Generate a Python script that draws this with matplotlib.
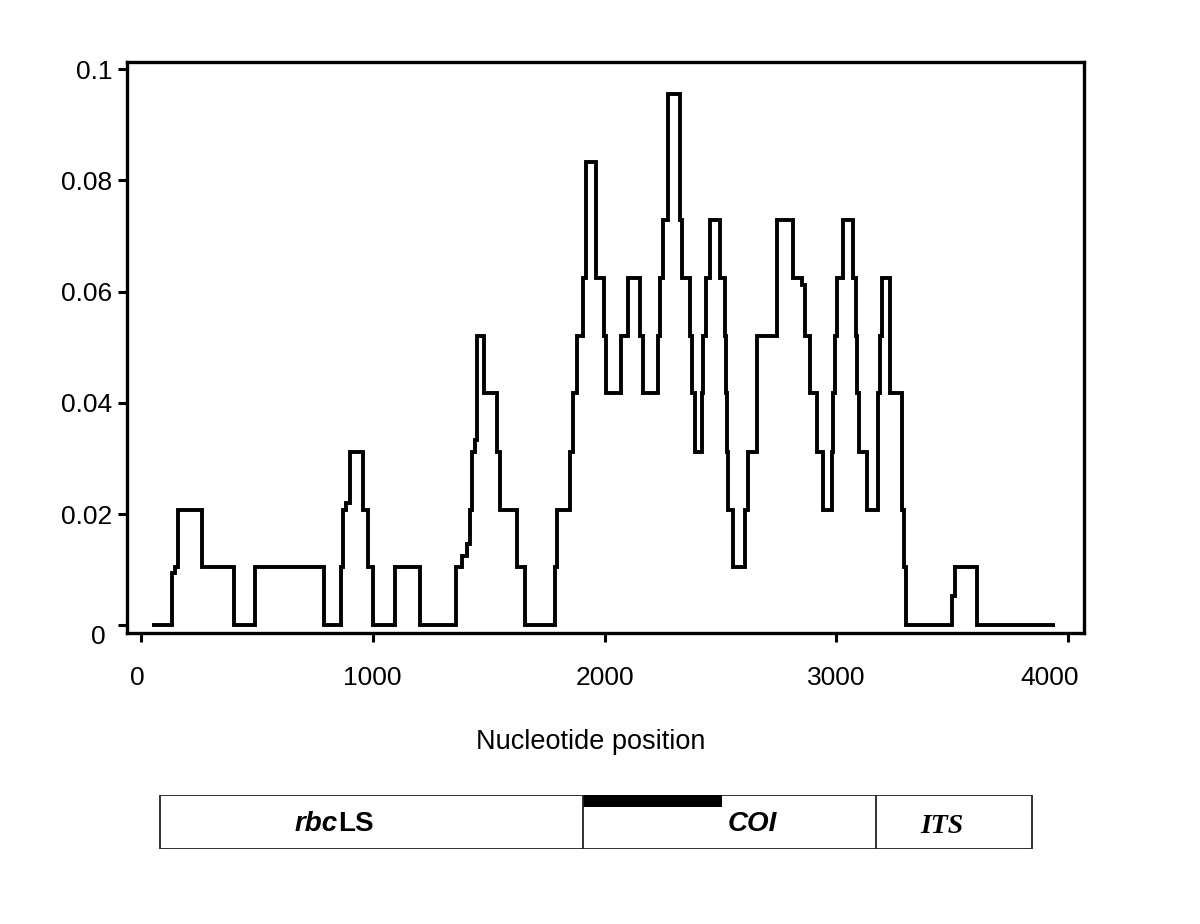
import numpy as np
import matplotlib
matplotlib.use("Agg")
import matplotlib.pyplot as plt
import matplotlib.transforms as mtransforms
from matplotlib.patches import Rectangle

plt.rcParams['font.family'] = ['Liberation Sans', 'DejaVu Sans']

# step edges (nucleotide position) and the value held after each edge
edges = [47, 134, 147, 160, 263, 400, 492, 790, 862, 872, 885, 900, 960, 980,
         1000, 1098, 1202, 1361, 1385, 1405, 1418, 1427, 1440, 1450, 1482,
         1536, 1549, 1622, 1657, 1786, 1797, 1851, 1864, 1881, 1907, 1920,
         1963, 1997, 2006, 2070, 2101, 2155, 2166, 2231, 2239, 2252, 2274,
         2325, 2334, 2368, 2377, 2390, 2420, 2425, 2437, 2455, 2500, 2519,
         2526, 2530, 2534, 2554, 2606, 2619, 2657, 2744, 2813, 2850, 2865,
         2886, 2916, 2942, 2981, 2986, 2994, 3002, 3028, 3072, 3085, 3089,
         3097, 3132, 3179, 3188, 3197, 3231, 3283, 3292, 3300, 3499, 3512,
         3607, 3943]
values = [0, 0.0094, 0.0104, 0.0208, 0.0104, 0, 0.0104, 0, 0.0104, 0.0208,
          0.0220, 0.0312, 0.0208, 0.0104, 0, 0.0104, 0, 0.0104, 0.0125, 0.0146,
          0.0208, 0.0312, 0.0333, 0.0521, 0.0417, 0.0312, 0.0208, 0.0104, 0,
          0.0104, 0.0208, 0.0312, 0.0417, 0.0521, 0.0625, 0.0833, 0.0625,
          0.0521, 0.0417, 0.0521, 0.0625, 0.0521, 0.0417, 0.0521, 0.0625,
          0.0729, 0.0955, 0.0729, 0.0625, 0.0521, 0.0417, 0.0312, 0.0417,
          0.0521, 0.0625, 0.0729, 0.0625, 0.0521, 0.0417, 0.0312, 0.0208,
          0.0104, 0.0208, 0.0312, 0.0521, 0.0729, 0.0625, 0.0612, 0.0521,
          0.0417, 0.0312, 0.0208, 0.0312, 0.0417, 0.0521, 0.0625, 0.0729,
          0.0625, 0.0521, 0.0417, 0.0312, 0.0208, 0.0417, 0.0521, 0.0625,
          0.0417, 0.0208, 0.0104, 0, 0.0052, 0.0104, 0]

xticks = [0, 1000, 2000, 3000, 4000]
yticks = [0, 0.02, 0.04, 0.06, 0.08, 0.1]
ylabels = ['', '0.02', '0.04', '0.06', '0.08', '0.1']

# gene map below the plot
genes = ['rbcLS', 'COI', 'ITS']
gene_bounds = [82, 1905, 3170, 3844]
bar_span = [1908, 2505]

fig = plt.figure(figsize=(12, 9.24), dpi=100)
ax = fig.add_axes([0.1058, 0.3149, 0.7975, 0.618])

ax.stairs(values, edges, baseline=None, color='black', lw=2.8)

ax.set_xlim(-60, 4068)
ax.set_ylim(-0.0014, 0.1013)
ax.set_xticks(xticks)
ax.set_xticklabels([str(t) for t in xticks])
ax.set_yticks(yticks)
ax.set_yticklabels(ylabels)
for s in ax.spines.values():
    s.set_linewidth(2.4)
ax.tick_params(direction='out', length=6.5, width=2.2, labelsize=19, colors='black')
ax.tick_params(axis='x', pad=17)
ax.tick_params(axis='y', pad=4)
# the end labels sit a little left of their ticks in the original
xl = ax.get_xticklabels()
xl[0].set_transform(xl[0].get_transform() + mtransforms.ScaledTranslation(-4 / 100, 0, fig.dpi_scale_trans))
xl[-1].set_transform(xl[-1].get_transform() + mtransforms.ScaledTranslation(-19 / 100, 0, fig.dpi_scale_trans))
fig.text(98 / 1200, 1 - 637 / 924, '0', fontsize=19, ha='center', va='center')

ax.set_xlabel('Nucleotide position', fontsize=19.5)
ax.xaxis.set_label_coords(0.485, -0.168)

# gene map axes shares the x scale of the main plot
gx = fig.add_axes([0.1058, 0.0812, 0.7975, 0.0584])
gx.set_xlim(-60, 4068)
gx.set_ylim(0, 1)
gx.axis('off')
gx.add_patch(Rectangle((gene_bounds[0], 0), gene_bounds[-1] - gene_bounds[0], 1,
                       fill=False, ec='#222222', lw=1.3))
for b in gene_bounds[1:-1]:
    gx.plot([b, b], [0, 1], color='#222222', lw=1.3)
gx.add_patch(Rectangle((bar_span[0], 0.77), bar_span[1] - bar_span[0], 0.23,
                       color='black', lw=0))

gx.text(850, 0.47, 'rbc', fontsize=20, fontweight='bold', fontstyle='italic',
        ha='right', va='center')
gx.text(850, 0.47, 'LS', fontsize=20, fontweight='bold', ha='left', va='center')
gx.text(2636, 0.47, genes[1], fontsize=20, fontweight='bold', fontstyle='italic',
        ha='center', va='center')
gx.text(3456, 0.42, genes[2], fontsize=20, fontweight='bold', fontstyle='italic',
        family='Liberation Serif', ha='center', va='center')

fig.savefig('out.png', dpi=100, facecolor='white')
